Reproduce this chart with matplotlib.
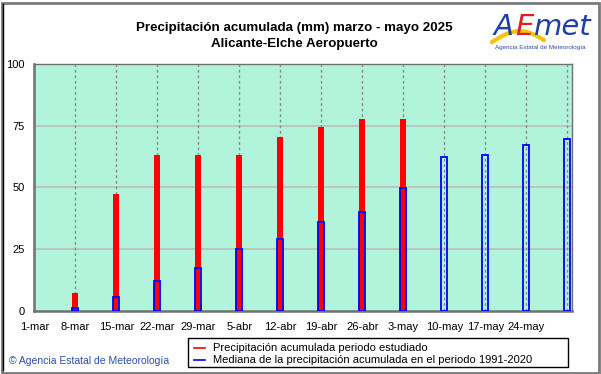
import numpy as np
import pandas as pd
import matplotlib
matplotlib.use("Agg")
import matplotlib.pyplot as plt
from matplotlib.patches import Rectangle
from matplotlib.lines import Line2D

plt.rcParams['font.family'] = ['Liberation Sans', 'DejaVu Sans']

# ---- data ----
start_date = "2025-03-01"
bar_dates = ["2025-03-08", "2025-03-15", "2025-03-22", "2025-03-29", "2025-04-05",
             "2025-04-12", "2025-04-19", "2025-04-26", "2025-05-03", "2025-05-10",
             "2025-05-17", "2025-05-24", "2025-05-31"]
observed = [7.0, 47.5, 63.0, 63.2, 63.2, 70.4, 74.5, 77.8, 77.8]
median_1991_2020 = [1.0, 5.4, 12.1, 17.5, 25.0, 29.0, 36.0, 40.2, 49.7, 62.5, 63.2, 67.3, 69.7]
tick_labels = ["1-mar", "8-mar", "15-mar", "22-mar", "29-mar", "5-abr", "12-abr",
               "19-abr", "26-abr", "3-may", "10-may", "17-may", "24-may"]
y_ticks = [0, 25, 50, 75, 100]

title = "Precipitación acumulada (mm) marzo - mayo 2025\nAlicante-Elche Aeropuerto"
legend_labels = ["Precipitación acumulada periodo estudiado",
                 "Mediana de la precipitación acumulada en el periodo 1991-2020"]

# ---- derived positions ----
t0 = pd.Timestamp(start_date)
bar_x = np.array([(pd.Timestamp(d) - t0).days for d in bar_dates], dtype=float)
tick_x = np.arange(len(tick_labels)) * 7.0

W, H = 601, 374
fig = plt.figure(figsize=(W / 100, H / 100), dpi=100)
fig.patch.set_facecolor("white")

ax = fig.add_axes([34.3 / W, 1 - 310.7 / H, (572 - 34.3) / W, (310.7 - 64) / H])
ax.set_facecolor("#b2f3dc")
ax.set_xlim(0, 91.8)
ax.set_ylim(0, 100)

# grid
for y in y_ticks[1:-1]:
    ax.axhline(y, color="#bdbdbd", lw=1.2, zorder=1)
for x in bar_x:
    ax.axvline(x, color="#8c8c8c", lw=1.0, ls=(0, (2, 2)), zorder=1)

# bars
ax.bar(bar_x[:len(observed)], observed, width=1.08, color="#ff0000",
       edgecolor="none", zorder=2)
ax.bar(bar_x, median_1991_2020, width=1.0, facecolor="none",
       edgecolor="#0000ff", linewidth=1.3, zorder=3)

for s in ax.spines.values():
    s.set_color("#707070")
    s.set_linewidth(1.0)
ax.spines["left"].set_linewidth(1.8)
ax.spines["bottom"].set_linewidth(1.8)

ax.set_xticks(tick_x)
ax.set_xticklabels(tick_labels, fontsize=8)
ax.set_yticks(y_ticks)
ax.set_yticklabels([str(v) for v in y_ticks], fontsize=8)
ax.tick_params(axis="both", length=0)
ax.tick_params(axis="x", pad=8)
ax.tick_params(axis="y", pad=7)

# title
fig.text(294 / W, 1 - 36 / H, title, ha="center", va="center",
         fontsize=9.6, fontweight="bold", linespacing=1.35)

pix = fig.transFigure
def P(x, y):
    return (x / W, 1 - y / H)

# legend box (figure pixel coords)
lx0, ly0, lx1, ly1 = 187.7, 338, 568, 367
fig.add_artist(Rectangle(P(lx0, ly1), (lx1 - lx0) / W, (ly1 - ly0) / H,
                         transform=pix, facecolor="white", edgecolor="black", lw=1.0))
for (yy, col, lab) in [(348, "#ff0000", legend_labels[0]), (359.7, "#0000ff", legend_labels[1])]:
    (xa, ya), (xb, yb) = P(194, yy), P(205, yy)
    fig.add_artist(Line2D([xa, xb], [ya, yb], transform=pix, color=col, lw=1.2))
    fig.text(*P(213, yy), lab, ha="left", va="center", fontsize=8)

# copyright
fig.text(*P(9, 360.5), "\u00a9 Agencia Estatal de Meteorología", ha="left", va="center",
         fontsize=7.5, color="#2b4fb0")

# logo
ts = np.linspace(0, 1, 50)
sx = 492 + 52 * ts
sy = 42 - 12 * np.sin(ts * np.pi * 0.9) + 2 * ts
fig.add_artist(Line2D(sx / W, 1 - sy / H, transform=pix, color="#f5c400", lw=3,
                      solid_capstyle="round"))
renderer = fig.canvas.get_renderer()
x_cursor = 494.0
for piece, col in [("A", "#1f3fa8"), ("E", "#e02020"), ("met", "#1f3fa8")]:
    t = fig.text(*P(x_cursor, 27), piece, ha="left", va="center", fontsize=21,
                 color=col, style="italic", family="DejaVu Sans")
    bb = t.get_window_extent(renderer)
    x_cursor += bb.width + 1
fig.text(*P(540, 47), "Agencia Estatal de Meteorología", ha="center", va="center",
         fontsize=4.5, color="#2b4fb0")

# outer frame
fig.add_artist(Rectangle((1.5 / W, 1.5 / H), (W - 4) / W, (H - 4) / H, transform=pix,
                         facecolor="none", edgecolor="#7a7a7a", lw=2.0))
fig.add_artist(Line2D([2.5 / W, 2.5 / W], [0.01, 0.99], transform=pix, color="black", lw=1))

fig.savefig("out.png", dpi=100)
